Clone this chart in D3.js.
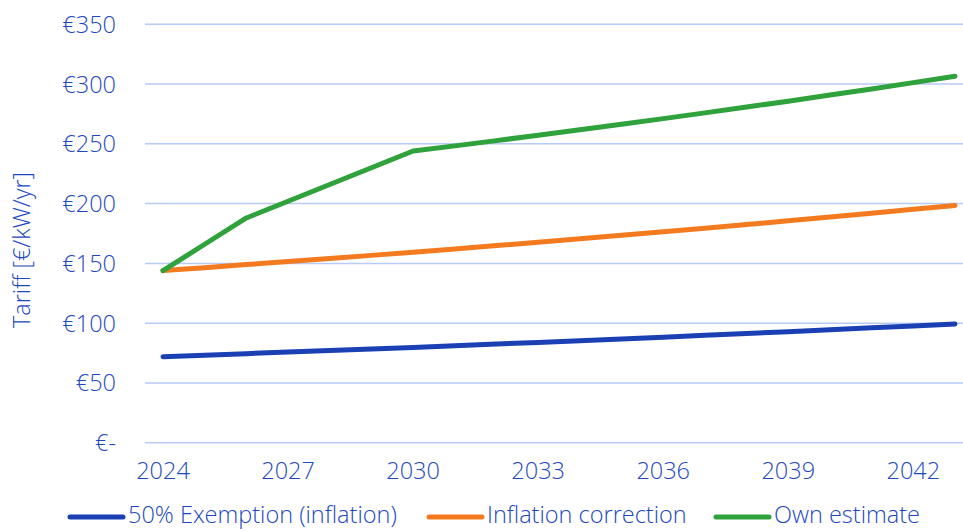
<!DOCTYPE html>
<html>
<head>
<meta charset="utf-8">
<script src="https://cdn.jsdelivr.net/npm/d3@7"></script>
<style>
  body { margin: 0; background: #fff; }
  svg text { font-family: "Open Sans", sans-serif; font-weight: 300; fill: #1c48c2; }
</style>
</head>
<body>
<div id="chart"></div>
<script>
// years on the x axis
const years = d3.range(2024, 2044);
const xTickYears = [2024, 2027, 2030, 2033, 2036, 2039, 2042];
const yTicks = [0, 50, 100, 150, 200, 250, 300, 350];

// tariff values (€/kW/yr)
const exemption = [72.0, 73.2, 74.5, 75.8, 77.1, 78.4, 79.7, 81.1, 82.5, 83.9,
                   85.3, 86.8, 88.3, 89.8, 91.3, 92.9, 94.5, 96.1, 97.7, 99.3];
const inflation = [144.0, 146.4, 149.0, 151.5, 154.1, 156.7, 159.4, 162.1, 164.9, 167.7,
                   170.6, 173.5, 176.4, 179.4, 182.5, 185.6, 188.8, 192.0, 195.2, 198.5];
const ownEstimate = [144, 166, 188, 202, 216, 230, 244, 248.3, 252.7, 257.2,
                     261.8, 266.4, 271.1, 275.9, 280.8, 285.7, 290.8, 295.9, 301.2, 306.5];

const series = [
  {name: "50% Exemption (inflation)", values: exemption, color: "#1a40b4"},
  {name: "Inflation correction", values: inflation, color: "#f47a1f"},
  {name: "Own estimate", values: ownEstimate, color: "#2fa23b"}
];

const width = 963, height = 531;
const fontSize = "23.5px";
const svg = d3.select("#chart").append("svg")
  .attr("width", width)
  .attr("height", height);

const x = d3.scalePoint().domain(years).range([163, 955]);
const y = d3.scaleLinear().domain([0, 350]).range([442.7, 24.3]);

// gridlines
svg.append("g").selectAll("line")
  .data(yTicks)
  .join("line")
  .attr("x1", 145).attr("x2", width)
  .attr("y1", d => y(d)).attr("y2", d => y(d))
  .attr("stroke", "#b7cbf6")
  .attr("stroke-width", 1.5);

// y axis labels
svg.append("g").selectAll("text")
  .data(yTicks)
  .join("text")
  .attr("x", 116)
  .attr("y", d => y(d))
  .attr("dy", "0.36em")
  .attr("text-anchor", "end")
  .style("font-size", fontSize)
  .text(d => d === 0 ? "€-" : "€" + d);

// x axis labels
svg.append("g").selectAll("text")
  .data(xTickYears)
  .join("text")
  .attr("x", d => x(d))
  .attr("y", 471)
  .attr("dy", "0.36em")
  .attr("text-anchor", "middle")
  .style("font-size", fontSize)
  .text(d => d);

// y axis title
svg.append("text")
  .attr("transform", "translate(30,250) rotate(-90)")
  .attr("text-anchor", "middle")
  .style("font-size", fontSize)
  .text("Tariff [€/kW/yr]");

// lines
const line = d3.line()
  .x((d, i) => x(years[i]))
  .y(d => y(d));

svg.append("g").selectAll("path")
  .data(series)
  .join("path")
  .attr("d", d => line(d.values))
  .attr("fill", "none")
  .attr("stroke", d => d.color)
  .attr("stroke-width", 5)
  .attr("stroke-linecap", "round")
  .attr("stroke-linejoin", "round");

// legend
const legendX = [70, 429, 716];
const legend = svg.append("g").selectAll("g")
  .data(series)
  .join("g")
  .attr("transform", (d, i) => "translate(" + legendX[i] + ",517)");

legend.append("line")
  .attr("x1", 0).attr("x2", 53)
  .attr("stroke", d => d.color)
  .attr("stroke-width", 5)
  .attr("stroke-linecap", "round");

legend.append("text")
  .attr("x", 58)
  .attr("y", 6)
  .style("font-size", fontSize)
  .text(d => d.name);
</script>
</body>
</html>
